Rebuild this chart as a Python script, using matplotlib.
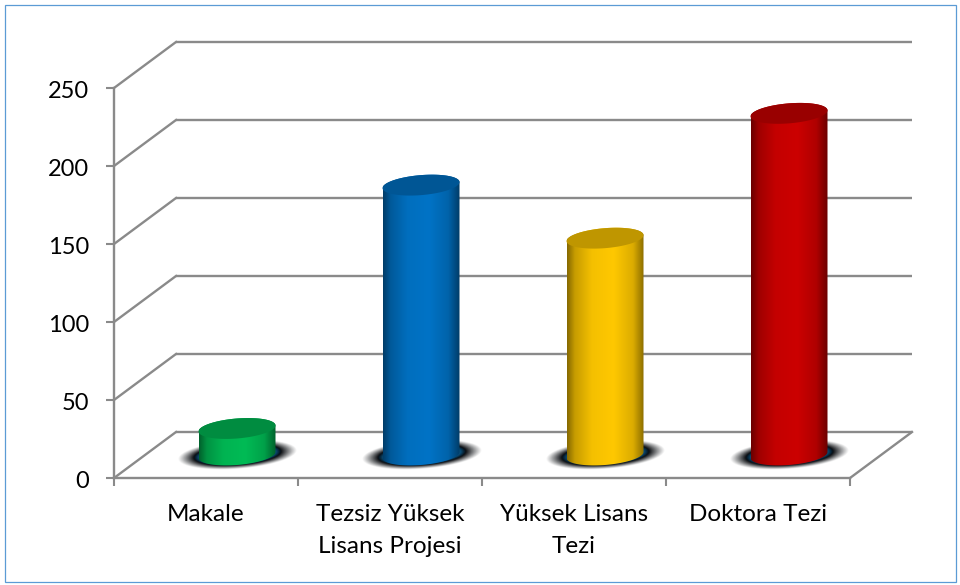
import numpy as np
import matplotlib
matplotlib.use("Agg")
import matplotlib.pyplot as plt
from matplotlib.patches import Polygon, Rectangle
from matplotlib.colors import to_rgb
from matplotlib.transforms import ScaledTranslation

categories = ["Makale", "Tezsiz Yüksek\nLisans Projesi", "Yüksek Lisans\nTezi", "Doktora Tezi"]
values = [17, 173, 139, 219]
colors = ["#00bb55", "#0073c6", "#ffc800", "#cc0000"]
y_ticks = [0, 50, 100, 150, 200, 250]

W, H = 960, 585
L, R, B, T = 114, 850, 478, 88
GRID = "#8a8a8a"
plt.rcParams["font.family"] = ["Lato", "DejaVu Sans"]

fig = plt.figure(figsize=(W / 100, H / 100), dpi=100)
fig.add_artist(Rectangle((4.5 / W, 1 - 581.5 / H), 951 / W, 577 / H, transform=fig.transFigure,
                         fill=False, ec="#5b9bd5", lw=0.9))
ax = fig.add_axes([L / W, 1 - B / H, (R - L) / W, (B - T) / H])
n = len(categories)
ax.set_xlim(-0.5, n - 0.5)
ax.set_ylim(0, 250)

px = (n) / (R - L)        # data x per pixel
py = 250 / (B - T)        # data y per pixel
dx, dy = 62 * px, 46 * py  # depth of the 3D box

# back wall and side wall
for v in y_ticks:
    ax.plot([-0.5 + dx, n - 0.5 + dx], [v + dy, v + dy], color=GRID, lw=1.7, clip_on=False, zorder=1,
            solid_capstyle="butt")
    ax.plot([-0.5, -0.5 + dx], [v, v + dy], color=GRID, lw=1.7, clip_on=False, zorder=1)
ax.plot([n - 0.5, n - 0.5 + dx], [0, dy], color=GRID, lw=1.7, clip_on=False, zorder=1)

for s in ("top", "right"):
    ax.spines[s].set_visible(False)
for s in ("left", "bottom"):
    ax.spines[s].set_color(GRID)
    ax.spines[s].set_linewidth(1.7)
    ax.spines[s].set_zorder(1.5)
ax.set_yticks(y_ticks)
ax.set_xticks(np.arange(n))
ax.set_xticklabels(categories, linespacing=1.62)
ax.set_xticks(np.arange(n + 1) - 0.5, minor=True)
ax.tick_params(axis="x", which="major", length=0, pad=19, labelsize=17.5)
ax.tick_params(axis="x", which="minor", length=6, width=1.5, color=GRID)
ax.tick_params(axis="y", length=6, width=1.5, color=GRID, pad=12, labelsize=17)
ax.patch.set_visible(False)
for lab in ax.get_yticklabels():
    lab.set_transform(lab.get_transform() + ScaledTranslation(0, -1.5 / 100, fig.dpi_scale_trans))

a, b, shear = 38.5 * px, 10 * py, 3 * py
base = 23 * py


def arc(cx, cy, t):
    return np.column_stack([cx + a * np.cos(t), cy + b * np.sin(t) + shear * np.cos(t)])


# blurred contact shadow under every column
gx = np.linspace(-1.25, 1.25, 200)
gy = np.linspace(-1.6, 1.6, 100)
X, Y = np.meshgrid(gx, gy)
sa, sb = 58 * px, 14 * py
for i in range(n):
    cx = i + dx / 2
    u = X
    v = (Y * sb - shear * 1.4 * X) / sb
    r = np.sqrt(u ** 2 + v ** 2)
    alpha = np.clip((1.03 - r) / 0.28, 0, 1) ** 1.1
    rgba = np.zeros(X.shape + (4,))
    mix = np.clip((0.76 - r) / 0.10, 0, 1)[..., None]
    rgba[..., :3] = mix * np.array(to_rgb("#0b4f7a")) + (1 - mix) * np.array(to_rgb("#05080c"))
    rgba[..., 3] = alpha
    ax.imshow(rgba, extent=[cx - 1.25 * sa, cx + 1.25 * sa, base - 1.6 * sb, base + 1.6 * sb],
              origin="lower", aspect="auto", zorder=2, clip_on=False, interpolation="bilinear")

# cylinders
for i, (val, col) in enumerate(zip(values, colors)):
    cx = i + dx / 2
    top = base + val
    c = np.array(to_rgb(col))
    stops = np.array([0, 0.1, 0.32, 0.6, 0.85, 1.0])
    shades = np.array([0.52, 0.78, 0.96, 1.0, 0.86, 0.52])
    s = np.interp(np.linspace(0, 1, 256), stops, shades)
    grad = (s[:, None] * c)[None, ...]
    low = arc(cx, base, np.linspace(np.pi, 2 * np.pi, 60))
    up = arc(cx, top, np.linspace(0, np.pi, 60))
    body = Polygon(np.vstack([low, up]), closed=True, transform=ax.transData, fc="none", ec="none")
    ax.add_patch(body)
    body.set_clip_on(False)
    im = ax.imshow(grad, extent=[cx - a, cx + a, base - b * 2, top + b * 2], aspect="auto", zorder=3,
                   interpolation="bilinear")
    im.set_clip_path(body)
    ax.add_patch(Polygon(arc(cx, top, np.linspace(0, 2 * np.pi, 120)), closed=True, fc=c * 0.75, ec="none",
                         zorder=4, clip_on=False))

ax.set_xlim(-0.5, n - 0.5)
ax.set_ylim(0, 250)
fig.savefig("out.png", dpi=100)
